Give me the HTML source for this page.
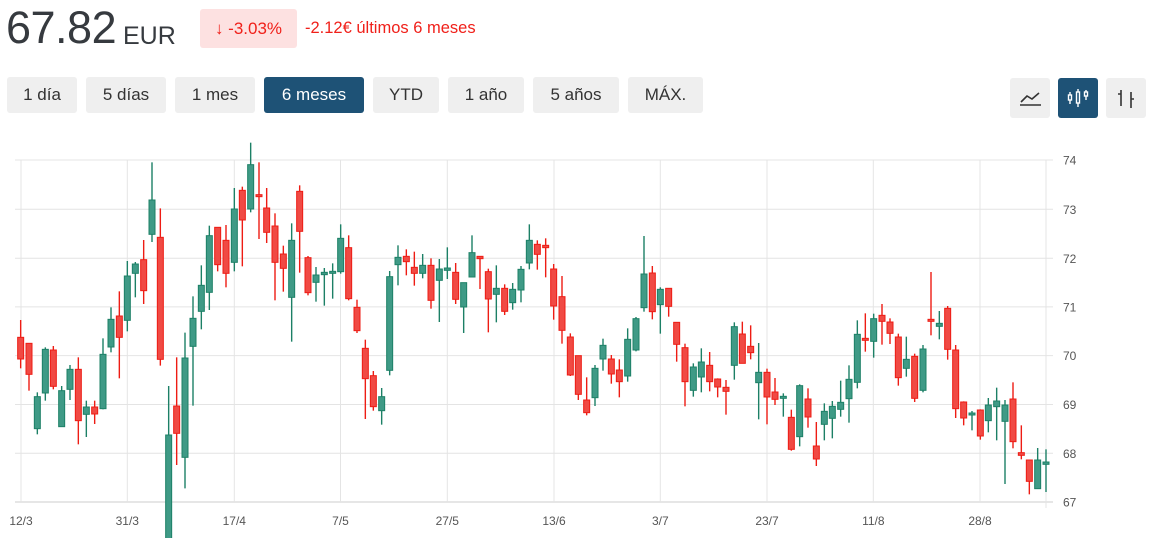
<!DOCTYPE html>
<html><head><meta charset="utf-8">
<style>
body{margin:0;width:1156px;height:538px;overflow:hidden;background:#fff;font-family:"Liberation Sans",Arial,sans-serif;position:relative}
.abs{position:absolute}
.price{left:6px;top:2px;font-size:45px;color:#363a3f;letter-spacing:-0.5px}
.cur{left:123px;top:22px;font-size:25px;color:#363a3f}
.badge{left:200px;top:9px;width:97px;height:39px;background:#fde1e1;border-radius:3px;color:#f0201a;font-size:17px;line-height:39px;text-align:center}
.chg{left:305px;top:19px;font-size:16.5px;color:#f0201a}
.btn{top:77px;height:36px;background:#efefef;border-radius:3px;color:#333;font-size:17px;line-height:36px;text-align:center}
.act{background:#1e5276;color:#fff}
.ib{top:78px;width:40px;height:40px;background:#efefef;border-radius:3px}
</style></head><body>
<div class="abs price">67.82</div>
<div class="abs cur">EUR</div>
<div class="abs badge">↓ -3.03%</div>
<div class="abs chg">-2.12€ últimos 6 meses</div>
<div class="abs btn" style="left:7px;width:70px">1 día</div>
<div class="abs btn" style="left:86px;width:80px">5 días</div>
<div class="abs btn" style="left:175px;width:80px">1 mes</div>
<div class="abs btn act" style="left:264px;width:100px">6 meses</div>
<div class="abs btn" style="left:373px;width:66px">YTD</div>
<div class="abs btn" style="left:448px;width:76px">1 año</div>
<div class="abs btn" style="left:533px;width:86px">5 años</div>
<div class="abs btn" style="left:628px;width:75px">MÁX.</div>
<div class="abs ib" style="left:1010px"><svg width="40" height="40"><path d="M10 27 H31" stroke="#333" stroke-width="1.6"/><path d="M11 24 L17 18 L22 21 L29 15" stroke="#333" stroke-width="1.6" fill="none"/></svg></div>
<div class="abs ib" style="left:1058px;background:#1e5276"><svg width="40" height="40" stroke="#fff" fill="none" stroke-width="1.4"><path d="M12 14V26M20 11V29M28 12V22"/><rect x="10.5" y="17" width="3" height="5" fill="#1e5276"/><rect x="18.5" y="14" width="3" height="11" fill="#1e5276"/><rect x="26.5" y="14" width="3" height="4" fill="#1e5276"/></svg></div>
<div class="abs ib" style="left:1106px"><svg width="40" height="40" stroke="#333" stroke-width="1.6" fill="none"><path d="M15 12V28M12 16H15M25 14V30M25 21H28"/></svg></div>
<svg id="ch" class="abs" style="left:0;top:0" width="1156" height="538"></svg>
<script>
var s='';
var ys=[160,209.3,258.3,306.9,355.6,404.5,453.3,502];
var labs=['74','73','72','71','70','69','68','67'];
for(var i=0;i<8;i++){s+='<line x1="15" x2="1053" y1="'+ys[i]+'" y2="'+ys[i]+'" stroke="'+(i==7?'#ccc':'#e4e4e4')+'" stroke-width="1"/>';
s+='<text x="1063" y="'+(ys[i]+4.5)+'" font-size="12" fill="#555" font-family="Liberation Sans,sans-serif">'+labs[i]+'</text>';}
var xs=[21,127.3,234.3,340.5,447.3,554,660.3,767,873.3,980,1046];
var xl=['12/3','31/3','17/4','7/5','27/5','13/6','3/7','23/7','11/8','28/8',''];
for(var i=0;i<xs.length;i++){s+='<line x1="'+xs[i]+'" x2="'+xs[i]+'" y1="160" y2="'+(i==10?508:502)+'" stroke="#e4e4e4"/>';
if(xl[i])s+='<text x="'+xs[i]+'" y="525" text-anchor="middle" font-size="12" fill="#555" font-family="Liberation Sans,sans-serif">'+xl[i]+'</text>';}
var Z=[[0,[
[62,'r',622,687,570,715],[87,'r',640,733,640,782],[112,'g',800,896,787,913],[136,'g',658,789,652,812],[160,'r',660,769,648,778],[185,'g',782,890,768,890],[210,'g',718,778,705,810],[235,'r',718,872,682,943],[259,'g',831,853,812,921],[284,'r',831,852,812,882],[309,'g',673,836,625,838],[333,'g',568,651,532,667],[358,'r',558,622,484,745],[382,'g',438,571,393,604],[406,'g',402,430,396,502],[431,'r',389,482,330,522],[456,'g',210,313,97,336],[481,'r',322,688,235,707],[506,'g',915,1240,768,1240],[530,'r',828,910,682,1005],[555,'g',684,982,608,1075],[579,'g',565,649,499,827],[604,'g',466,544,406,598],[628,'g',317,487,287,540],[653,'r',292,404,292,424],[678,'r',331,430,285,472],[703,'g',237,397,174,424],[727,'r',181,270,170,409],[752,'g',104,237,38,247],[777,'r',194,200,97,327]]],
[260,[[20,'r',234,307,174,339],[45,'r',288,397,250,511],[70,'r',372,415,347,485],[95,'g',331,502,280,635],[119,'r',184,304,166,428],[144,'r',383,488,378,496],[168,'g',435,457,411,515],[193,'g',427,434,414,527],[218,'g',424,430,400,506],[242,'g',325,425,283,431],[266,'r',353,506,316,511],[291,'r',532,602,509,609],[316,'r',655,746,629,867],[340,'r',737,830,723,842],[365,'g',800,842,774,884],[389,'g',440,721,423,736],[414,'g',382,404,346,466],[439,'r',379,395,358,436],[463,'r',412,430,365,467],[488,'g',406,430,372,445],[513,'r',406,511,385,536],[538,'g',417,451,387,576],[562,'g',414,421,352,447],[587,'r',427,508,399,522],[611,'g',458,531,458,609],[636,'g',368,441,316,441],[660,'r',379,386,379,477],[685,'r',425,507,416,607],[709,'g',475,493,406,577],[734,'r',475,544,463,555],[758,'g',478,518,459,539],[783,'g',418,480,408,517],[808,'g',331,399,283,418]]],
[520,[[52,'r',343,373,331,419],[77,'r',346,353,325,442],[101,'r',417,528,402,569],[126,'r',500,601,438,641],[151,'r',621,735,610,738],[175,'r',677,793,677,810],[200,'r',810,848,742,856],[225,'g',715,803,705,828],[249,'g',646,687,626,722],[274,'r',687,732,675,761],[298,'r',720,755,688,802],[323,'g',628,738,595,755],[348,'g',566,660,561,664],[372,'g',432,533,318,545],[397,'r',429,545,408,568],[421,'g',478,524,472,611],[446,'r',475,529,475,560],[470,'r',577,643,577,695],[495,'r',653,755,641,829],[520,'g',711,781,700,800],[544,'g',696,741,655,787],[569,'r',706,755,666,784],[593,'r',747,771,745,802],[618,'r',772,784,750,854],[643,'g',590,706,577,749],[667,'r',612,700,575,700],[692,'r',649,668,586,688],[716,'g',727,758,639,868],[741,'r',727,801,716,883],[765,'r',786,808,744,825],[790,'g',799,805,790,860]]],
[780,[[34,'r',862,958,839,962],[59,'g',767,920,763,949],[84,'r',807,861,775,893],[109,'r',948,987,876,1008],[133,'g',844,883,820,931],[157,'g',829,865,813,925],[182,'g',817,838,752,860],[207,'g',748,806,706,878],[232,'g',613,757,571,775],[256,'r',625,631,550,665],[281,'g',566,634,551,683],[306,'r',556,574,522,644],[330,'r',576,610,565,642],[355,'r',621,743,611,767],[379,'g',688,715,620,740],[404,'r',679,805,671,816],[429,'g',657,781,645,787],[453,'r',568,574,426,616],[478,'g',580,589,543,628],[503,'r',535,658,528,689],[527,'r',660,836,645,864],[551,'r',816,864,814,886],[576,'g',849,855,843,901],[601,'r',840,918,838,929],[625,'g',825,872,804,907],[650,'g',813,830,773,931],[675,'g',825,874,810,1062],[699,'r',807,935,757,955],[724,'r',968,976,886,988],[748,'r',990,1054,990,1093],[773,'g',990,1076,954,1076],[798,'g',996,1003,958,1086]]]];
Z.forEach(function(z){var o=z[0];z[1].forEach(function(c){
var x=o+c[0]/3,t=130+c[2]/3,b=130+c[3]/3,h=130+c[4]/3,l=130+c[5]/3;
var st=c[1]=='r'?'#ee1c14':'#1c8066',fi=c[1]=='r'?'#f04a44':'#3f9a86';
s+='<line x1="'+x+'" x2="'+x+'" y1="'+h+'" y2="'+l+'" stroke="'+st+'" stroke-width="1.4"/>';
var hh=Math.max(b-t,2);
s+='<rect x="'+(x-3)+'" y="'+t+'" width="6" height="'+hh+'" fill="'+fi+'" stroke="'+st+'" stroke-width="1"/>';});});
document.getElementById('ch').innerHTML=s;
</script>
</body></html>
